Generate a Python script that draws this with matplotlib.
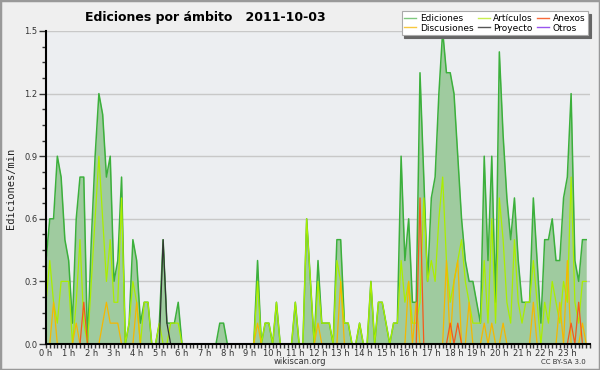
import matplotlib
matplotlib.use("Agg")
import matplotlib.pyplot as plt
import numpy as np
from matplotlib.lines import Line2D
from matplotlib.patches import Rectangle
from matplotlib.ticker import MultipleLocator

# edits per minute, one value per 10-minute slot (144 slots)
ediciones = [
    0.4, 0.6, 0.6, 0.9, 0.8, 0.5, 0.4, 0.1, 0.6, 0.8,
    0.8, 0.0, 0.5, 0.9, 1.2, 1.1, 0.8, 0.9, 0.3, 0.4,
    0.8, 0.0, 0.1, 0.5, 0.4, 0.1, 0.2, 0.2, 0.0, 0.0,
    0.1, 0.5, 0.1, 0.1, 0.1, 0.2, 0.0, 0.0, 0.0, 0.0,
    0.0, 0.0, 0.0, 0.0, 0.0, 0.0, 0.1, 0.1, 0.0, 0.0,
    0.0, 0.0, 0.0, 0.0, 0.0, 0.0, 0.4, 0.0, 0.1, 0.1,
    0.0, 0.2, 0.0, 0.0, 0.0, 0.0, 0.2, 0.0, 0.0, 0.6,
    0.3, 0.0, 0.4, 0.1, 0.1, 0.1, 0.0, 0.5, 0.5, 0.1,
    0.1, 0.0, 0.0, 0.1, 0.0, 0.0, 0.3, 0.0, 0.2, 0.2,
    0.1, 0.0, 0.1, 0.1, 0.9, 0.4, 0.6, 0.2, 0.2, 1.3,
    0.8, 0.3, 0.7, 0.8, 1.2, 1.5, 1.3, 1.3, 1.2, 0.9,
    0.6, 0.4, 0.3, 0.3, 0.2, 0.1, 0.9, 0.4, 0.9, 0.2,
    1.4, 1.0, 0.7, 0.5, 0.7, 0.4, 0.2, 0.2, 0.2, 0.7,
    0.4, 0.1, 0.5, 0.5, 0.6, 0.4, 0.4, 0.7, 0.8, 1.2,
    0.4, 0.3, 0.5, 0.5,
]
articulos = [
    0.2, 0.4, 0.2, 0.1, 0.3, 0.3, 0.3, 0.0, 0.2, 0.5,
    0.1, 0.0, 0.3, 0.6, 0.9, 0.6, 0.3, 0.5, 0.2, 0.2,
    0.7, 0.0, 0.1, 0.3, 0.2, 0.0, 0.2, 0.2, 0.0, 0.0,
    0.1, 0.0, 0.0, 0.1, 0.1, 0.1, 0.0, 0.0, 0.0, 0.0,
    0.0, 0.0, 0.0, 0.0, 0.0, 0.0, 0.0, 0.0, 0.0, 0.0,
    0.0, 0.0, 0.0, 0.0, 0.0, 0.0, 0.3, 0.0, 0.1, 0.1,
    0.0, 0.2, 0.0, 0.0, 0.0, 0.0, 0.2, 0.0, 0.0, 0.6,
    0.3, 0.0, 0.3, 0.1, 0.1, 0.1, 0.0, 0.4, 0.3, 0.1,
    0.1, 0.0, 0.0, 0.1, 0.0, 0.0, 0.3, 0.0, 0.2, 0.2,
    0.1, 0.0, 0.1, 0.1, 0.4, 0.2, 0.3, 0.1, 0.1, 0.2,
    0.7, 0.3, 0.4, 0.3, 0.6, 0.8, 0.4, 0.2, 0.3, 0.4,
    0.5, 0.3, 0.2, 0.1, 0.1, 0.1, 0.4, 0.1, 0.6, 0.1,
    0.7, 0.5, 0.2, 0.1, 0.5, 0.2, 0.1, 0.2, 0.2, 0.4,
    0.2, 0.0, 0.2, 0.1, 0.3, 0.2, 0.1, 0.3, 0.2, 0.8,
    0.2, 0.1, 0.3, 0.3,
]
discusiones = [0.0] * 144
for i, v in [(2, 0.2), (8, 0.1), (15, 0.1), (16, 0.2), (17, 0.1), (18, 0.1),
             (19, 0.1), (24, 0.2), (56, 0.1), (72, 0.1), (78, 0.3), (96, 0.3),
             (98, 0.2), (106, 0.4), (108, 0.3), (109, 0.4), (112, 0.2),
             (116, 0.1), (118, 0.1), (121, 0.1), (129, 0.2), (136, 0.2),
             (138, 0.4), (142, 0.1)]:
    discusiones[i] = v
anexos = [0.0] * 144
for i, v in [(10, 0.2), (99, 0.7), (107, 0.1), (109, 0.1), (139, 0.1), (141, 0.2)]:
    anexos[i] = v
proyecto = [0.0] * 144
proyecto[31] = 0.5
proyecto[32] = 0.1
otros = [0.0] * 144

hour_labels = ["%d h" % h for h in range(24)]

t = np.arange(len(ediciones)) / 6.0

fig = plt.figure(figsize=(6, 3.7), dpi=100, facecolor="#efefef")
ax = fig.add_axes([46/600, 1 - 344/370, 544/600, 313/370], facecolor="#eceef1")

ax.fill_between(t, 0, ediciones, color="#9fcb9f", lw=0, zorder=1)
ax.plot(t, ediciones, color="#3cb03c", lw=1.1, zorder=2)
ax.plot(t, otros, color="#9944ee", lw=0.9, zorder=2)
ax.plot(t, articulos, color="#aaee00", lw=0.9, zorder=2)
ax.plot(t, discusiones, color="#f5b800", lw=0.9, zorder=2)
ax.plot(t, anexos, color="#f55a1a", lw=0.9, zorder=2)
ax.plot(t, proyecto, color="#333333", lw=0.9, zorder=2)

ax.set_xlim(0, 24)
ax.set_ylim(0, 1.5)
for s in ["top", "right"]:
    ax.spines[s].set_visible(False)
for s in ["left", "bottom"]:
    ax.spines[s].set_linewidth(1.5)
    ax.spines[s].set_color("black")

ax.set_yticks([0, 0.3, 0.6, 0.9, 1.2, 1.5])
ax.set_yticklabels(["0.0", "0.3", "0.6", "0.9", "1.2", "1.5"])
ax.yaxis.set_minor_locator(MultipleLocator(0.075))
ax.set_xticks(range(24))
ax.set_xticklabels(hour_labels)
ax.xaxis.set_minor_locator(MultipleLocator(1 / 6))
ax.tick_params(axis="y", which="major", length=5, width=1, labelsize=6, pad=1, colors="#333")
ax.tick_params(axis="y", which="minor", length=3, width=1, color="#333")
ax.tick_params(axis="x", which="major", length=3, width=1, labelsize=6, pad=0.5, colors="#333")
ax.tick_params(axis="x", which="minor", length=3, width=1, color="#333")
ax.grid(axis="y", color="#c8c8c8", lw=1)
ax.set_axisbelow(True)

handles = [
    Line2D([], [], color="#7fc87f", lw=1),
    Line2D([], [], color="#f8c840", lw=1),
    Line2D([], [], color="#c8ee50", lw=1),
    Line2D([], [], color="#555555", lw=1),
    Line2D([], [], color="#f86a3a", lw=1),
    Line2D([], [], color="#9955ee", lw=1),
]
names = ["Ediciones", "Discusiones", "Artículos", "Proyecto", "Anexos", "Otros"]
leg = fig.legend(handles, names, ncol=3, loc="upper right",
                 bbox_to_anchor=(588/600, 1 - 11/370), fontsize=6.5,
                 frameon=True, fancybox=False, shadow={"color": "#666666", "alpha": 1},
                 handlelength=1.3, handletextpad=0.4, columnspacing=0.5,
                 labelspacing=0.1, borderpad=0.3, borderaxespad=0)
leg.get_frame().set_edgecolor("#aaaaaa")
leg.get_frame().set_linewidth(0.8)

fig.text(85/600, 1 - 18/370, "Ediciones por ámbito   2011-10-03",
         fontsize=9, fontweight="bold", va="center", ha="left")
fig.text(11/600, 1 - 188/370, "Ediciones/min", rotation=90, family="DejaVu Sans Mono",
         fontsize=7.5, va="center", ha="center", color="#222")
fig.text(300/600, 1 - 362/370, "wikiscan.org", fontsize=6, ha="center", va="center", color="#333")
fig.text(586/600, 1 - 362/370, "CC BY-SA 3.0", fontsize=5, ha="right", va="center", color="#333")

fig.patches.append(Rectangle((0, 0), 1, 1, transform=fig.transFigure, fill=False,
                             edgecolor="#999999", lw=2.5))

fig.savefig("out.png", dpi=100, facecolor=fig.get_facecolor())
